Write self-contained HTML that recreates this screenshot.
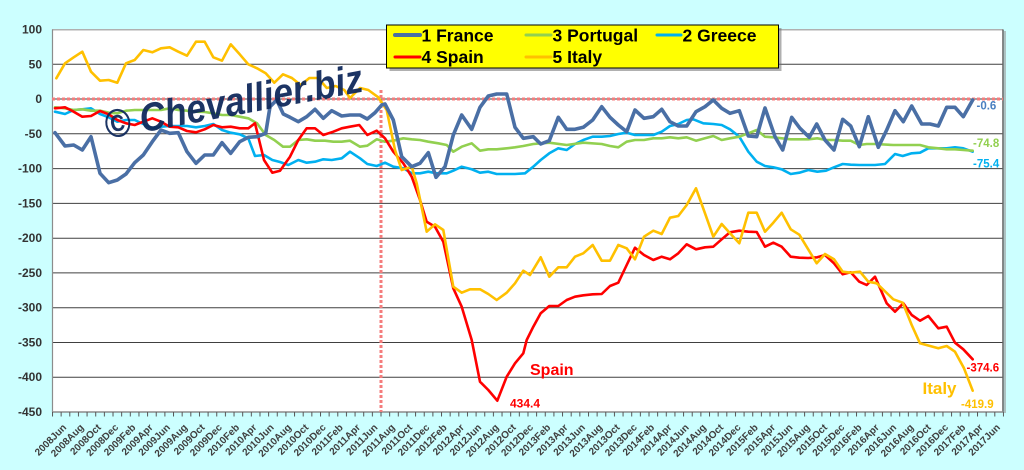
<!DOCTYPE html>
<html><head><meta charset="utf-8"><style>
html,body{margin:0;padding:0;background:#ccffff;}
svg{display:block;font-family:"Liberation Sans",Arial,sans-serif;}
</style></head><body>
<svg width="1024" height="470" viewBox="0 0 1024 470" xmlns="http://www.w3.org/2000/svg">
<defs>
<pattern id="tk" patternUnits="userSpaceOnUse" x="52" y="412" width="8.645" height="5"><line x1="0.5" y1="0" x2="0.5" y2="5" stroke="#555" stroke-width="1"/></pattern>
</defs>
<rect x="0" y="0" width="1024" height="470" fill="#ccffff"/>
<!-- plot area -->
<rect x="1004" y="31" width="2" height="382" fill="#9a9a9a" opacity="0.6"/>
<rect x="52" y="29.5" width="951" height="382.5" fill="#ffffff"/>
<!-- gridlines -->
<g stroke="#404040" stroke-width="1">
<line x1="52" y1="64.3" x2="1003" y2="64.3"/>
<line x1="52" y1="99" x2="1003" y2="99"/>
<line x1="52" y1="133.8" x2="1003" y2="133.8"/>
<line x1="52" y1="168.6" x2="1003" y2="168.6"/>
<line x1="52" y1="203.4" x2="1003" y2="203.4"/>
<line x1="52" y1="238.2" x2="1003" y2="238.2"/>
<line x1="52" y1="272.9" x2="1003" y2="272.9"/>
<line x1="52" y1="307.7" x2="1003" y2="307.7"/>
<line x1="52" y1="342.5" x2="1003" y2="342.5"/>
<line x1="52" y1="377.2" x2="1003" y2="377.2"/>
</g>
<line x1="52" y1="29.8" x2="1003" y2="29.8" stroke="#b0b0b0" stroke-width="1.5"/>
<line x1="52.5" y1="29.5" x2="52.5" y2="412" stroke="#8c8c8c" stroke-width="1.2"/>
<line x1="1003" y1="29.5" x2="1003" y2="412" stroke="#606060" stroke-width="1.5"/>
<line x1="52" y1="412" x2="1003" y2="412" stroke="#8c8c8c" stroke-width="1.5"/>
<rect x="52" y="412" width="952" height="4.5" fill="url(#tk)"/>
<!-- red dotted reference lines -->
<line x1="52" y1="99" x2="1003" y2="99" stroke="#f47c7c" stroke-width="3" stroke-dasharray="3,2"/>
<line x1="381" y1="90" x2="381" y2="412" stroke="#f47c7c" stroke-width="3" stroke-dasharray="3,2"/>
<!-- y labels -->
<g font-size="12" font-weight="bold" fill="#333" text-anchor="end">
<text x="42" y="33.5">100</text>
<text x="42" y="68.3">50</text>
<text x="42" y="103">0</text>
<text x="42" y="137.8">-50</text>
<text x="42" y="172.6">-100</text>
<text x="42" y="207.4">-150</text>
<text x="42" y="242.2">-200</text>
<text x="42" y="276.9">-250</text>
<text x="42" y="311.7">-300</text>
<text x="42" y="346.5">-350</text>
<text x="42" y="381.2">-400</text>
<text x="42" y="416">-450</text>
</g>
<!-- x labels -->
<g font-size="10" font-weight="bold" fill="#404040" text-anchor="end">
<text transform="translate(67,428) rotate(-45)">2008Jun</text>
<text transform="translate(84.3,428) rotate(-45)">2008Aug</text>
<text transform="translate(101.6,428) rotate(-45)">2008Oct</text>
<text transform="translate(118.9,428) rotate(-45)">2008Dec</text>
<text transform="translate(136.2,428) rotate(-45)">2009Feb</text>
<text transform="translate(153.5,428) rotate(-45)">2009Apr</text>
<text transform="translate(170.7,428) rotate(-45)">2009Jun</text>
<text transform="translate(188,428) rotate(-45)">2009Aug</text>
<text transform="translate(205.3,428) rotate(-45)">2009Oct</text>
<text transform="translate(222.6,428) rotate(-45)">2009Dec</text>
<text transform="translate(239.9,428) rotate(-45)">2010Feb</text>
<text transform="translate(257.2,428) rotate(-45)">2010Apr</text>
<text transform="translate(274.5,428) rotate(-45)">2010Jun</text>
<text transform="translate(291.8,428) rotate(-45)">2010Aug</text>
<text transform="translate(309.1,428) rotate(-45)">2010Oct</text>
<text transform="translate(326.4,428) rotate(-45)">2010Dec</text>
<text transform="translate(343.6,428) rotate(-45)">2011Feb</text>
<text transform="translate(360.9,428) rotate(-45)">2011Apr</text>
<text transform="translate(378.2,428) rotate(-45)">2011Jun</text>
<text transform="translate(395.5,428) rotate(-45)">2011Aug</text>
<text transform="translate(412.8,428) rotate(-45)">2011Oct</text>
<text transform="translate(430.1,428) rotate(-45)">2011Dec</text>
<text transform="translate(447.4,428) rotate(-45)">2012Feb</text>
<text transform="translate(464.7,428) rotate(-45)">2012Apr</text>
<text transform="translate(482,428) rotate(-45)">2012Jun</text>
<text transform="translate(499.3,428) rotate(-45)">2012Aug</text>
<text transform="translate(516.5,428) rotate(-45)">2012Oct</text>
<text transform="translate(533.8,428) rotate(-45)">2012Dec</text>
<text transform="translate(551.1,428) rotate(-45)">2013Feb</text>
<text transform="translate(568.4,428) rotate(-45)">2013Apr</text>
<text transform="translate(585.7,428) rotate(-45)">2013Jun</text>
<text transform="translate(603,428) rotate(-45)">2013Aug</text>
<text transform="translate(620.3,428) rotate(-45)">2013Oct</text>
<text transform="translate(637.6,428) rotate(-45)">2013Dec</text>
<text transform="translate(654.9,428) rotate(-45)">2014Feb</text>
<text transform="translate(672.2,428) rotate(-45)">2014Apr</text>
<text transform="translate(689.4,428) rotate(-45)">2014Jun</text>
<text transform="translate(706.7,428) rotate(-45)">2014Aug</text>
<text transform="translate(724,428) rotate(-45)">2014Oct</text>
<text transform="translate(741.3,428) rotate(-45)">2014Dec</text>
<text transform="translate(758.6,428) rotate(-45)">2015Feb</text>
<text transform="translate(775.9,428) rotate(-45)">2015Apr</text>
<text transform="translate(793.2,428) rotate(-45)">2015Jun</text>
<text transform="translate(810.5,428) rotate(-45)">2015Aug</text>
<text transform="translate(827.8,428) rotate(-45)">2015Oct</text>
<text transform="translate(845.1,428) rotate(-45)">2015Dec</text>
<text transform="translate(862.3,428) rotate(-45)">2016Feb</text>
<text transform="translate(879.6,428) rotate(-45)">2016Apr</text>
<text transform="translate(896.9,428) rotate(-45)">2016Jun</text>
<text transform="translate(914.2,428) rotate(-45)">2016Aug</text>
<text transform="translate(931.5,428) rotate(-45)">2016Oct</text>
<text transform="translate(948.8,428) rotate(-45)">2016Dec</text>
<text transform="translate(966.1,428) rotate(-45)">2017Feb</text>
<text transform="translate(983.4,428) rotate(-45)">2017Apr</text>
<text transform="translate(1000.7,428) rotate(-45)">2017Jun</text>
</g>
<!-- series -->
<g fill="none" stroke-linejoin="round" stroke-linecap="round">
<polyline stroke="#00b0f0" stroke-width="2.6" points="55,111.7 65,114 73.7,110 82.3,109.3 91,108.3 100,114 108.7,117.3 117.3,121.7 126,120 134.7,120 143.3,124 152.3,128.3 161,126.7 169.7,126 178.3,126 187,126 196,127.3 204.7,126 213.3,124 222,130 230.7,132.7 239.7,134.3 248.3,138.3 255,156 264,155 272.3,160 280,162 288.3,165 298.3,160 306.7,162.7 315,161.7 323.3,159.3 331.7,160 341.7,158.3 350,151.7 360,158.3 367.3,164 376.7,166 385,162.7 393.3,166.7 403.3,168.3 411.7,173.3 420,173.3 428.3,171.7 436.7,173.3 446.7,173.3 453.3,170.7 461.7,166.7 471.7,169.3 480,172.7 488.3,171.7 496.7,174 506.7,174 515,174 525,173.3 533.3,166.7 540.7,160 549.3,153.3 558.3,148.3 566.7,150 575,144 583.3,140 592.7,136.7 601.7,136.7 610,136 618.3,134 626.7,132.7 635,135 644,135 653.3,135 661.7,131.7 670,126 678.3,124 686.7,120 693.3,119.3 703.3,123.3 713.3,124 721.7,125 730,129.3 739.3,136.7 748.3,151.7 756.7,161.7 765,166 773.3,167.3 781.7,169.3 790.7,174 799.3,172.7 808.3,170 817.3,171.7 826,170.7 834,167.3 842.7,164 850.7,164.7 859.3,165 866.7,165 875,165 885,164 895,154 902.7,156 911.7,153.3 920,152.7 928.3,148.3 938.3,148.3 946.7,148.3 955,147.3 963.3,148.3 972.7,151.7"/>
<polyline stroke="#92d050" stroke-width="2.6" points="55,107.3 65,108.3 73.7,110 82.3,109.3 91,110.7 100,110.7 108.7,112.7 117.3,113.3 126,110.7 134.7,110 143.3,110 152.3,110 161,110 169.7,108.3 178.3,110 187,110.7 196,111.7 204.7,112 213.3,113.3 222,115 230.7,115 239.7,116.7 248.3,118.3 257,123.3 265.7,135 274.3,140 283,146.7 290,146.7 298.3,140 306.7,139.3 315,140.7 325,140.7 333.3,141.7 341.7,141.7 350,140.7 360,146.7 367.3,145.7 376.7,139.3 385,141.7 393.3,140.7 403.3,138.3 411.7,139.3 420,140 428.3,141.7 438.3,143.3 446.7,145 453.3,151.7 461.7,146.7 471.7,143.3 480,150.7 488.3,149.3 496.7,149.3 506.7,148.3 515,147.3 523.3,146 533.3,144 549.3,142.7 566.7,145 583.3,142.7 601.7,144 610,146 618.3,147.3 626.7,141.7 635,140 644,140 653.3,138.3 661.7,138.3 670,137.3 678.3,138.3 686.7,137.3 696,140.7 705,138.3 713.3,136 721.7,140 730,138.3 739.3,136.7 748.3,133.3 756.7,130 765,136.7 773.3,137.3 781.7,138.3 790.7,139.3 799.3,139.3 808.3,139.3 817.3,138.3 826,140 834,140 842.7,140.7 850.7,140.7 859.3,145 866.7,144 875,144 893.3,145 902.7,145 911.7,145 920,145 928.3,147.3 938.3,148.3 946.7,149.3 955,149.3 963.3,150 972.7,150.7"/>
<polyline stroke="#ff0000" stroke-width="2.6" points="55,108.3 65,107.3 73.7,111.7 82.3,116.7 91,116 100,111 108.7,114.3 117.3,120 126,123.3 134.7,125 143.3,121.7 152.3,118.3 161,121.7 169.7,126.7 178.3,127.3 187,131 196,132.3 204.7,129.3 213.3,125 222,127.3 230.7,126.7 239.7,128.3 248.3,128.3 255,123.3 264,160 272.3,172.7 280,170.7 290,156.7 298.3,140 306.7,128.3 315,128.3 323.3,135 333.3,131.7 341.7,128.3 350,126.7 359.3,125 367.3,135 376.7,130.7 385,138.3 393.3,151.7 403.3,163.3 411.7,176.7 420,200 426.7,221.7 435,226.7 443.3,241.7 453.3,288.3 461.7,306.7 471.7,340 480,381.7 488.3,390 497.3,400.7 506.7,376.7 515,363.3 523.3,353.3 526.7,340 533.3,326.7 540.7,313.3 549.3,306 558.3,306 566.7,300 575,296.7 583.3,295.3 592.7,294.3 601.7,294 610,286 618.3,282.7 626.7,265 635,247.7 644,255 653.3,260 661.7,256.7 670,259.3 678.3,253.3 686.7,244.3 696,249.3 705,247.3 713.3,246.7 721.7,239.3 730,232.3 739.3,230.7 748.3,231.7 756.7,232 765,246.7 773.3,242.7 781.7,246.7 790.7,256.7 799.3,257.7 808.3,258 817.3,257.3 825,255 834,263.3 842.7,274.3 850.7,272.3 859.3,281.7 866.7,285 875,276.7 886.7,303.3 895,311.7 903.3,303.3 911.7,315 920,320.7 928.3,316 938.3,328.3 946.7,326.7 955,342.7 963.3,349.3 972.7,359.3"/>
<polyline stroke="#ffc000" stroke-width="2.6" points="56.3,78.3 65,63.3 73.7,57.3 82.3,51.7 91,71.7 100,80.7 108.7,80 117.3,82.7 126,63.3 134.7,60 143.3,50 152.3,52.3 161,48.3 169.7,47.3 178.3,51.7 187,55.7 196,41.7 204.7,41.7 213.3,57.3 222,60.7 230.7,44.3 239.7,54.3 248.3,64.3 257,68.3 265.7,73.3 274.3,82.7 283,74.3 291.9,78 300.7,85 309.4,78 318.1,78 326.8,88 335.6,86 344.3,90 350,98 360,88 368.3,90 378.3,97.3 386.7,110 395,150 401.7,170 411.7,166.7 416.7,183.3 426.7,231.7 435,224.3 443.3,230 453.3,286.7 461.7,292.7 470,289.3 480,289.3 488.3,294 496.7,300 506.7,292.7 515,283.3 523.3,270.7 530,275 540.7,257.3 549.3,276.7 558.3,267.3 566.7,267.3 575,256.7 583.3,253.3 592.7,245 601.7,260.7 610,260.7 618.3,245 626.7,248.3 635,259.3 644,236.7 653.3,230.7 661.7,234 670,217.7 678.3,216 686.7,205 696,188.3 705,213.3 713.3,236.7 721.7,224 730,233.3 739.3,243.3 748.3,212.7 756.7,212.7 765,231.7 773.3,222.7 781.7,212.7 790.7,229.3 799.3,234.7 816.7,263.3 825,254 834,259.3 842.7,271.7 850.7,272.7 860,271.7 868.3,281.7 876.7,283.3 893.3,299.3 902.7,302.7 911.7,325 920,343.3 938.3,348.3 946.7,346 955,351.7 964,368.3 972.7,390.7"/>
<polyline stroke="#4a6fa5" stroke-width="3.6" points="55,132.7 65,146 73.7,145 82.3,150 91,136.7 100,173.3 108.7,182.7 117.3,180 126,174 134.7,162.7 143.3,155 152.3,141.7 161,130 169.7,133.3 178.3,132.7 187,151.7 196,163.3 204.7,155 213.3,155 222,142.7 230.7,153.3 239.7,141.7 248.3,137.3 257,136.7 265.7,133.3 270,106.7 276.7,100 283.3,114 290,117.3 298.3,121.7 306.7,116.7 315,109.3 323.3,118.3 331.7,110.7 341.7,116 350,115 360,115 367.3,119 375,112.7 381.7,105 385,104 393.3,120 401.7,156.7 411.7,166.7 420,163.3 428.3,152.7 436,177.3 445,166.7 453.3,135 461.7,115 471.7,129.3 480,107.3 488.3,96 496.7,94 506.7,94 515,127.3 523.3,138.3 533.3,136.7 540.7,144 549.3,140.7 558.3,117.3 566.7,129.3 575,129.3 583.3,127.3 592.7,120 601.7,106.7 610,117.3 618.3,125 626.7,131.7 635,110 644,118.3 653.3,116.7 661.7,109.3 670,121.7 678.3,126 686.7,126 696,111.7 705,106.7 713.3,100 721.7,108.3 730,113.3 739.3,110.7 748.3,136 756.7,136.7 765,108 775,136.7 782.7,150 791.7,117.3 800,128.3 809.3,137.3 816.7,124 825,140 834,150 842.7,119.3 850.7,126 859.3,146.7 868.3,116.7 878.3,147.3 886.7,130 895,110.7 903.3,121.7 911.7,106 921.7,124 930,124 938.3,126 946.7,107.3 955,107.3 963.3,116.7 972.7,100"/>
</g>
<!-- watermark -->
<text transform="translate(107,139) rotate(-10.5)" font-size="40" font-weight="bold" font-style="italic" fill="#102a5c" opacity="0.95" textLength="262" lengthAdjust="spacingAndGlyphs">© Chevallier.biz</text>
<!-- annotations -->
<g font-weight="bold">
<text x="530" y="375" font-size="16" fill="#ff0000">Spain</text>
<text x="510" y="407.5" font-size="12" fill="#ff0000">434.4</text>
<text x="922.5" y="394" font-size="17" fill="#ffc000">Italy</text>
<text x="961" y="408" font-size="11.5" fill="#ffc000">-419.9</text>
<text x="966.5" y="371.5" font-size="11.5" fill="#ff0000">-374.6</text>
<text x="973" y="147" font-size="11.5" fill="#92d050">-74.8</text>
<text x="973" y="167.5" font-size="11.5" fill="#00b0f0">-75.4</text>
<text x="976.5" y="109.5" font-size="11.5" fill="#4a7fc0">-0.6</text>
</g>
<!-- legend -->
<rect x="389.5" y="28" width="392" height="43" fill="#6f6f6f" opacity="0.55"/>
<rect x="386.5" y="25" width="392" height="43" fill="#ffff00" stroke="#000" stroke-width="1"/>
<g stroke-linecap="round">
<line x1="395" y1="35" x2="420" y2="35" stroke="#4a6fa5" stroke-width="4"/>
<line x1="526" y1="35" x2="551" y2="35" stroke="#92d050" stroke-width="3"/>
<line x1="657" y1="35" x2="681" y2="35" stroke="#00b0f0" stroke-width="3"/>
<line x1="395" y1="57" x2="420" y2="57" stroke="#ff0000" stroke-width="3"/>
<line x1="526" y1="57" x2="551" y2="57" stroke="#ffc000" stroke-width="3"/>
</g>
<g font-size="17.5" font-weight="bold" fill="#000">
<text x="421.5" y="41.5">1 France</text>
<text x="552.5" y="41.5">3 Portugal</text>
<text x="682.5" y="41.5">2 Greece</text>
<text x="421.5" y="63">4 Spain</text>
<text x="552.5" y="63">5 Italy</text>
</g>
</svg>
</body></html>
